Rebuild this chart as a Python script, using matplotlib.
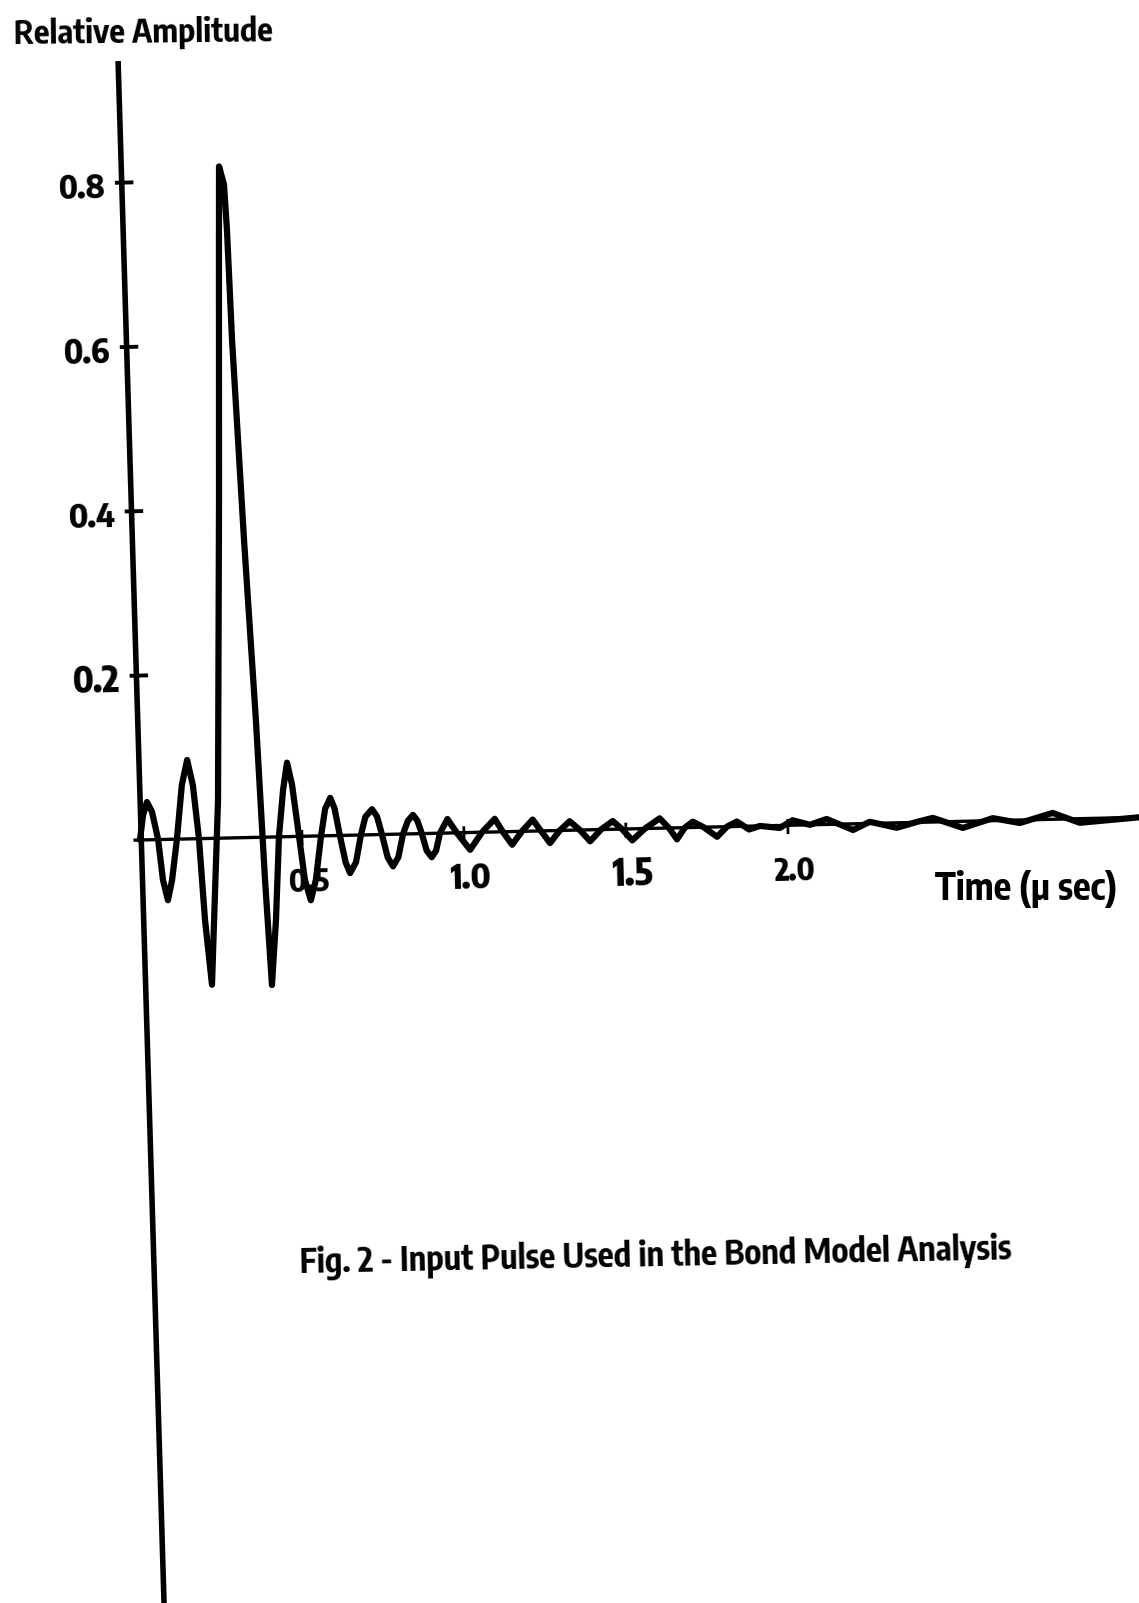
#input pulse plot (relative amplitude vs time), redrawn from the scanned figure
import matplotlib as mpl
mpl.use('Agg')
import matplotlib.pyplot as plt
from matplotlib.transforms import Affine2D
from matplotlib import font_manager as fm

#waveform: time in micro sec, amplitude relative
time_us = [0.000, 0.011, 0.024, 0.039, 0.056, 0.068, 0.082, 0.096, 0.114, 0.133,
           0.151, 0.167, 0.182, 0.195, 0.212, 0.2435, 0.2676, 0.285, 0.291, 0.305,
           0.311, 0.319, 0.342, 0.366, 0.383, 0.397, 0.414, 0.429, 0.445, 0.459,
           0.473, 0.491, 0.506, 0.523, 0.540, 0.559, 0.5735, 0.590, 0.6025, 0.617,
           0.633, 0.646, 0.665, 0.682, 0.697, 0.718, 0.733, 0.747, 0.763, 0.779,
           0.796, 0.812, 0.828, 0.844, 0.857, 0.870, 0.884, 0.899, 0.913, 0.926,
           0.950, 0.978, 1.018, 1.056, 1.096, 1.120, 1.148, 1.179, 1.213, 1.238,
           1.265, 1.296, 1.327, 1.358, 1.389, 1.423, 1.460, 1.488, 1.519, 1.559,
           1.605, 1.633, 1.657, 1.682, 1.707, 1.740, 1.781, 1.812, 1.843, 1.880,
           1.914, 1.975, 2.015, 2.068, 2.120, 2.201, 2.253, 2.336, 2.398, 2.448,
           2.540, 2.633, 2.716, 2.818, 2.901, 3.083]
amplitude = [0.000, 0.030, 0.046, 0.034, 0.000, -0.049, -0.074, -0.050, 0.000, 0.066,
             0.096, 0.065, 0.000, -0.099, -0.178, 0.046, 0.411, 0.716, 0.817, 0.795,
             0.740, 0.606, 0.362, 0.143, -0.052, -0.180, -0.101, 0.000, 0.057, 0.090,
             0.063, 0.000, -0.053, -0.078, -0.053, 0.000, 0.033, 0.046, 0.033, 0.000,
             -0.033, -0.046, -0.033, 0.000, 0.022, 0.031, 0.022, 0.000, -0.028, -0.039,
             -0.028, 0.000, 0.016, 0.023, 0.016, 0.000, -0.021, -0.029, -0.021, 0.000,
             0.017, 0.000, -0.021, 0.000, 0.016, 0.000, -0.016, 0.000, 0.014, 0.000,
             -0.015, 0.000, 0.011, 0.000, -0.014, 0.000, 0.010, 0.000, -0.014, 0.000,
             0.012, 0.000, -0.014, 0.000, 0.007, 0.000, -0.012, 0.000, 0.006, -0.004,
             0.000, -0.003, 0.006, 0.000, 0.0066, -0.0075, 0.002, -0.006, 0.0005, 0.005,
             -0.008, 0.003, -0.0036, 0.0077, -0.005, 0.000]

#axis ticks and labels
y_ticks = [0.2, 0.4, 0.6, 0.8]
y_labels = ['0.2', '0.4', '0.6', '0.8']
x_ticks = [0.5, 1.0, 1.5, 2.0]
x_labels = ['0.5', '1.0', '1.5', '2.0']

W, H = 1139, 1603
ox, oy = 140, 840        #pixel position of the origin (from top)
sx, sy = 324.0, 822.0    #pixels per micro sec / per unit amplitude
tilt = 1.3               #the page is scanned a little crooked

#narrow fonts installed, the original lettering is condensed
cands = []
for f in fm.fontManager.ttflist:
    nm = f.name.lower()
    narrow = ('narrow' in nm or 'condensed' in nm or
              str(f.stretch) in ('condensed', 'semi-condensed', 'extra-condensed'))
    if not narrow or f.style != 'normal':
        continue
    try:
        w = int(f.weight)
    except (TypeError, ValueError):
        w = 700 if 'bold' in str(f.weight) else 400
    cands.append((nm, w, f.fname))

def pick_font(weight, family=None):
    best = None
    pick = None
    for nm, w, fname in cands:
        if family is not None and nm != family:
            continue
        score = abs(w - weight)
        if 'sans' not in nm:
            score += 1000
        if best is None or score < best:
            best = score
            pick = (nm, fname)
    return pick

#family chosen with a medium weight, then the heavier cut of the same family
base = pick_font(600)
base_fam = base[0] if base else None

def fp(size, weight=600):
    got = pick_font(weight, base_fam) if base_fam else None
    if got:
        return fm.FontProperties(fname=got[1], size=size)
    return fm.FontProperties(family='DejaVu Sans', size=size)

fig = plt.figure(figsize=(W/100, H/100), dpi=100)
fig.patch.set_facecolor('white')
ax = fig.add_axes([0, 0, 1, 1])
ax.axis('off')
ax.set_xlim(-ox/sx, (W-ox)/sx)
ax.set_ylim(-(H-oy)/sy, oy/sy)

rot = Affine2D().rotate_deg_around(ox, H-oy, tilt)
tr = ax.transData + rot
renderer = fig.canvas.get_renderer()

def fit_text(txt, target_w):
    #scale the font so the text is as wide as in the scan
    txt.set_rotation(0)
    bb = txt.get_window_extent(renderer)
    txt.set_fontsize(txt.get_fontsize() * target_w / bb.width)

#y axis (drawn a bit slanted like the original)
ya_top, ya_bot = 0.948, -0.929
def axis_t(a):
    return 0.004 - 0.018*a
ax.plot([axis_t(ya_top), axis_t(ya_bot)], [ya_top, ya_bot], color='black', lw=4.0,
        solid_capstyle='butt', transform=tr)
for v, lab in zip(y_ticks, y_labels):
    t0 = axis_t(v)
    ax.plot([t0-0.015, t0+0.03], [v, v], color='black', lw=2.8, transform=tr)
    tx = ax.text(t0-0.05, v-0.007, lab, transform=tr, ha='right', va='center',
                 fontproperties=fp(24, 800), rotation_mode='anchor')
    fit_text(tx, 47)
    tx.set_rotation(tilt)

#x axis
ax.plot([-0.015, 3.1], [0, 0], color='black', lw=2.4, transform=tr)
for v, lab in zip(x_ticks, x_labels):
    ax.plot([v, v], [-0.009, 0.006], color='black', lw=2.0, transform=tr)
    tx = ax.text(v+0.02, -0.056, lab, transform=tr, ha='center', va='center',
                 fontproperties=fp(20, 800), rotation_mode='anchor')
    fit_text(tx, 41)
    tx.set_rotation(tilt)

#the pulse
ax.plot(time_us, amplitude, color='black', lw=4.5, transform=tr,
        solid_capstyle='round', solid_joinstyle='round')

#texts placed in pixel positions
def fx(x):
    return x/W
def fy(y):
    return 1 - y/H

t1 = fig.text(fx(143), fy(33), 'Relative Amplitude', ha='center', va='center',
              fontproperties=fp(22, 650), rotation_mode='anchor')
fit_text(t1, 258)
t1.set_rotation(0.6)
t2 = fig.text(fx(1026), fy(889), 'Time (μ sec)', ha='center', va='center',
              fontproperties=fp(19, 650), rotation_mode='anchor')
fit_text(t2, 182)
t3 = fig.text(fx(656), fy(1257), 'Fig. 2 - Input Pulse Used in the Bond Model Analysis',
              ha='center', va='center', fontproperties=fp(25, 650), rotation_mode='anchor')
fit_text(t3, 713)
t3.set_rotation(1.1)

plt.savefig('out.png', dpi=100, facecolor='white')
plt.close(fig)
